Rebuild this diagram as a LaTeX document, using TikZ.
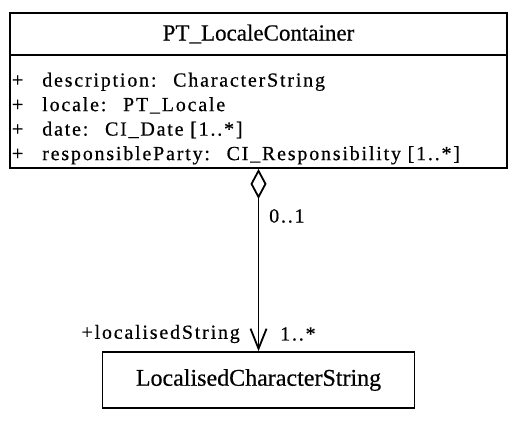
\documentclass[tikz,border=0pt]{standalone}
\usepackage{fontspec}
\setmainfont{Liberation Serif}[FakeBold=0.5]
\newfontfamily\attrfont[LetterSpace=9,FakeBold=0.5]{Liberation Serif}
\usetikzlibrary{arrows.meta}
\tikzstyle{classname} = [rectangle, draw, line width=1.8pt, minimum width=497pt, minimum height=42pt, inner sep=0pt, font=\fontsize{23}{27}\selectfont]
\tikzstyle{classattr} = [rectangle, draw, line width=1.8pt, minimum width=497pt, minimum height=113pt, inner xsep=2pt, text width=493pt, align=left, font=\attrfont\fontsize{20}{24.5}\selectfont]
\tikzstyle{assoclabel} = [font=\attrfont\fontsize{20}{22}\selectfont, inner sep=0pt]
\newcommand{\vis}{+\hspace{0.95em}}

\begin{document}
\begin{tikzpicture}[x=1pt, y=-1pt]
    \useasboundingbox (0,0) rectangle (518,421);

    % Container class
    \node (ctrname) at (258.5,34) [classname] {PT\_LocaleContainer};
    \node (ctrattr) at (258.5,111.5) [classattr] {\rule{0pt}{28pt}\vis description: \ CharacterString\\
        \vis locale: \ PT\_Locale\\
        \vis date: \ CI\_Date [1..*]\\
        \vis responsibleParty: \ CI\_Responsibility [1..*]};

    % Localised string class
    \node (lcs) at (258.5,380) [classname, minimum width=312pt, minimum height=56pt, font=\fontsize{24}{28}\selectfont] {LocalisedCharacterString};

    % Aggregation
    \draw[line width=1.4pt, {Diamond[open, length=30pt, width=16pt, line width=1.8pt]}-{Straight Barb[length=20pt, width=16pt, line width=1.8pt]}] (ctrattr.south) -- (lcs.north);
    \node (lowmult) at (269,216) [assoclabel, anchor=west] {0..1};
    \node (highmult) at (280,334) [assoclabel, anchor=west] {1..*};
    \node (rolename) at (240,334) [assoclabel, anchor=east] {+localisedString};

\end{tikzpicture}
\end{document}
